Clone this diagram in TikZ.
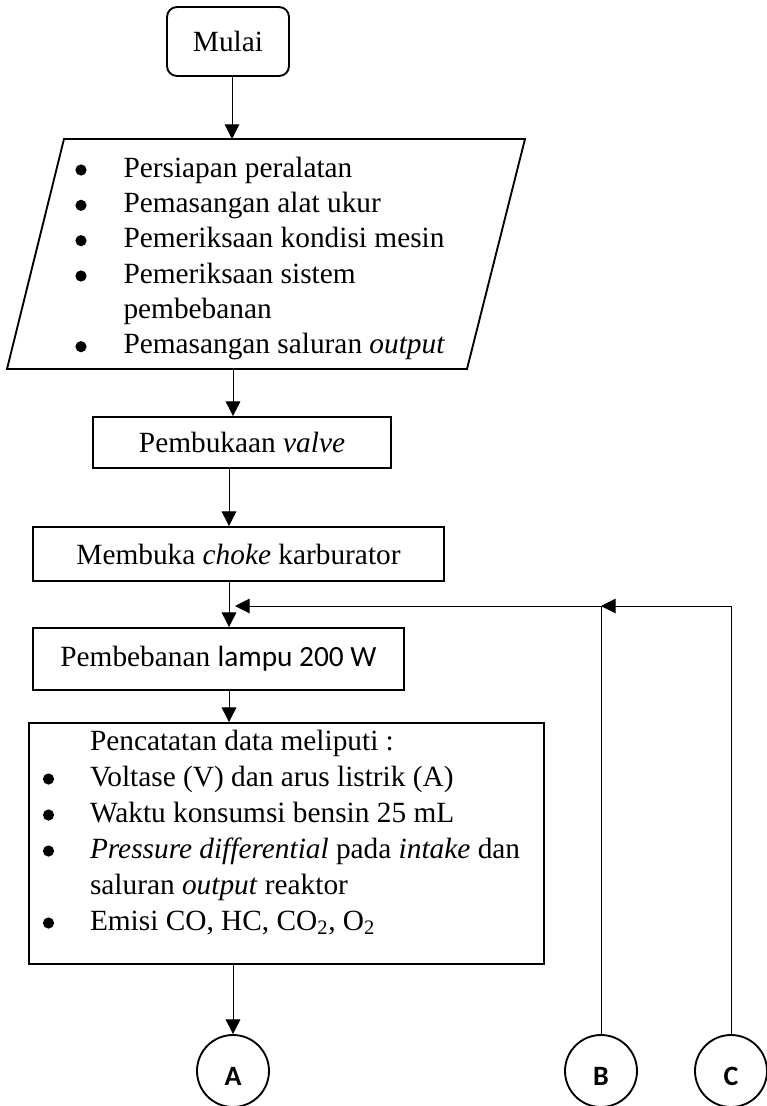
\documentclass[tikz,border=0pt]{standalone}
\usepackage{fontspec}
\setmainfont{Liberation Serif}
\newfontfamily\calibri{Carlito}
\usetikzlibrary{arrows.meta}

\tikzset{every picture/.style={line width=0.75pt}}
\tikzset{
	box/.style={draw, line width=1.4pt, inner sep=0pt, font=\fontsize{22}{26.5}\selectfont},
	startbox/.style={box, rounded corners=7.5pt},
	conn/.style={draw, circle, line width=1.4pt, minimum size=54pt, inner sep=0pt, text height=22pt, text depth=0pt, font=\calibri\bfseries\fontsize{21}{24}\selectfont},
	list/.style={anchor=base west, inner sep=0pt, font=\fontsize{22}{26.5}\selectfont},
	arr/.style={-{Triangle[length=11pt,width=11pt]}},
}

\begin{document}
\begin{tikzpicture}[x=0.75pt,y=0.75pt,yscale=-1,xscale=1]
	\useasboundingbox (0,0) rectangle (767,1106);
	
	%Shape: Rounded Rectangle
	\node (start) [startbox, minimum width=91.5pt, minimum height=51.75pt] at (228,41.5) {Mulai};
	%Shape: Parallelogram
	\draw [line width=1.4pt] (64,139) -- (525,139) -- (467,369) -- (7,369) -- cycle ;
	\coordinate (inTop) at (232,139);
	\coordinate (inBot) at (233,369);
	% Text Node
	\node (prep) [list] at (123,177) {\begin{tabular}[t]{@{}l@{}}
			Persiapan peralatan\\
			Pemasangan alat ukur\\
			Pemeriksaan kondisi mesin\\
			Pemeriksaan sistem\\
			pembebanan\\
			Pemasangan saluran \textit{output}
		\end{tabular}};
	%Bullets
	\foreach \y in {177,212.33,247.67,283,353.67}
		\fill (81,\y-7) circle (5.6);
	
	%Shape: Rectangle
	\node (valve) [box, minimum width=223.5pt, minimum height=38.25pt] at (242,442.5) {Pembukaan \textit{valve}};
	%Shape: Rectangle
	\node (choke) [box, minimum width=308.25pt, minimum height=40.5pt] at (238.5,554) {Membuka \textit{choke} karburator};
	%Shape: Rectangle
	\node (load) [box, minimum width=278.25pt, minimum height=46.5pt] at (218.5,659) {Pembebanan {\calibri lampu 200 W}};
	%Shape: Rectangle
	\node (record) [box, minimum width=386.25pt, minimum height=180.75pt] at (286.5,843.5) {};
	% Text Node
	\node (data) [list, font=\fontsize{22}{27}\selectfont] at (89.5,750) {\begin{tabular}[t]{@{}l@{}}
			Pencatatan data meliputi :\\
			Voltase (V) dan arus listrik (A)\\
			Waktu konsumsi bensin 25 mL\\
			\textit{Pressure differential} pada \textit{intake} dan\\
			saluran \textit{output} reaktor\\
			Emisi CO, HC, CO\textsubscript{2}, O\textsubscript{2}
		\end{tabular}};
	%Bullets
	\foreach \y in {786,822,858,930}
		\fill (48.5,\y-7) circle (5.6);
	
	%Shape: Circle
	\node (A) [conn] at (233,1071) {A};
	\node (B) [conn] at (601,1071) {B};
	\node (C) [conn] at (731,1071) {C};
	
	%Straight Lines
	\coordinate (axis) at (229,0);
	\draw [arr] (start.south -| inTop) -- (inTop);
	\draw [arr] (inBot) -- (inBot |- valve.north);
	\draw [arr] (valve.south -| axis) -- (choke.north -| axis);
	\draw [arr] (choke.south -| axis) -- (load.north -| axis);
	\draw [arr] (load.south -| axis) -- (record.north -| axis);
	\draw [arr] (record.south -| A.north) -- (A.north);
	%Straight Lines (back to loading)
	\coordinate (backIn) at (235,606);
	\coordinate (backB) at (601,606);
	\draw [arr] (B.north) |- (backIn);
	\draw [arr] (C.north) |- (backB);
	
\end{tikzpicture}
\end{document}
